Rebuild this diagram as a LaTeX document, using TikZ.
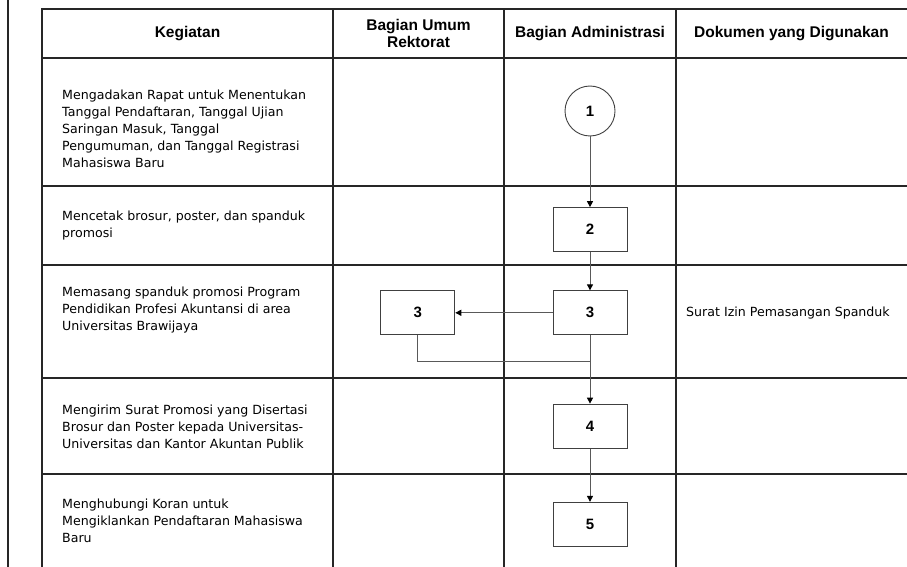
\documentclass[tikz,border=0pt]{standalone}
\usepackage{fontspec}
\setmainfont{DejaVu Sans}
\newfontfamily\headfont{Liberation Sans}
\usetikzlibrary{arrows.meta,positioning}

\begin{document}
\begin{tikzpicture}[
  x=1pt, y=-1pt,
  grid/.style={line width=1.4pt, draw=black!85},
  head/.style={font=\headfont\bfseries\fontsize{15.5}{17}\selectfont, align=center},
  act/.style={font=\fontsize{12.6}{17}\selectfont, align=left, anchor=west, inner sep=0pt},
  proc/.style={draw=black!75, line width=0.9pt, minimum width=74pt, minimum height=44pt,
               inner sep=0pt, font=\headfont\bfseries\fontsize{15}{15}\selectfont},
  start/.style={draw=black!75, line width=0.9pt, circle, minimum size=50pt,
                inner sep=0pt, font=\headfont\bfseries\fontsize{15}{15}\selectfont},
  flow/.style={-{Triangle[length=6pt,width=6pt,color=black]}, draw=black!65, line width=0.9pt},
  link/.style={draw=black!65, line width=0.9pt}
]
\useasboundingbox (0,0) rectangle (907,567);

% lanes
\draw[grid] (8,0) -- (8,567);
\draw[grid] (42,567) -- (42,9) -- (907,9);
\foreach \y in {58,186,265,378,474}
  \draw[grid] (42,\y) -- (907,\y);
\foreach \x in {333,504,676}
  \draw[grid] (\x,9) -- (\x,567);

% headers
\node[head] (hkeg) at (187.5,33.5) {Kegiatan};
\node[head] (humum) at (418.5,33) {Bagian Umum\\Rektorat};
\node[head] (hadm) at (590,33.5) {Bagian Administrasi};
\node[head] (hdok) at (791.5,33.5) {Dokumen yang Digunakan};

% activities
\node[act] (keg1) at (62,129) {Mengadakan Rapat untuk Menentukan\\Tanggal Pendaftaran, Tanggal Ujian\\Saringan Masuk, Tanggal\\Pengumuman, dan Tanggal Registrasi\\Mahasiswa Baru};
\node[act] (keg2) at (62,226) {Mencetak brosur, poster, dan spanduk\\promosi};
\node[act] (keg3) at (62,310) {Memasang spanduk promosi Program\\Pendidikan Profesi Akuntansi di area\\Universitas Brawijaya};
\node[act] (keg4) at (62,427) {Mengirim Surat Promosi yang Disertasi\\Brosur dan Poster kepada Universitas-\\Universitas dan Kantor Akuntan Publik};
\node[act] (keg5) at (62,521) {Menghubungi Koran untuk\\Mengiklankan Pendaftaran Mahasiswa\\Baru};
\node[act] (dok3) at (686,313) {Surat Izin Pemasangan Spanduk};

% flow
\node[start] (adm1) at (590,111) {1};
\node[proc, below=70.7pt of adm1] (adm2) {2};
\node[proc, below=38.3pt of adm2] (adm3) {3};
\node[proc, left=97.3pt of adm3] (umum3) {3};
\node[proc, below=68.4pt of adm3] (adm4) {4};
\node[proc, below=53.3pt of adm4] (adm5) {5};
\coordinate[below=25.7pt of adm3.south] (join);

\draw[flow] (adm1) -- (adm2);
\draw[flow] (adm2) -- (adm3);
\draw[flow] (adm3) -- (umum3);
\draw[link] (umum3) |- (join);
\draw[flow] (adm3) -- (adm4);
\draw[flow] (adm4) -- (adm5);
\end{tikzpicture}
\end{document}
